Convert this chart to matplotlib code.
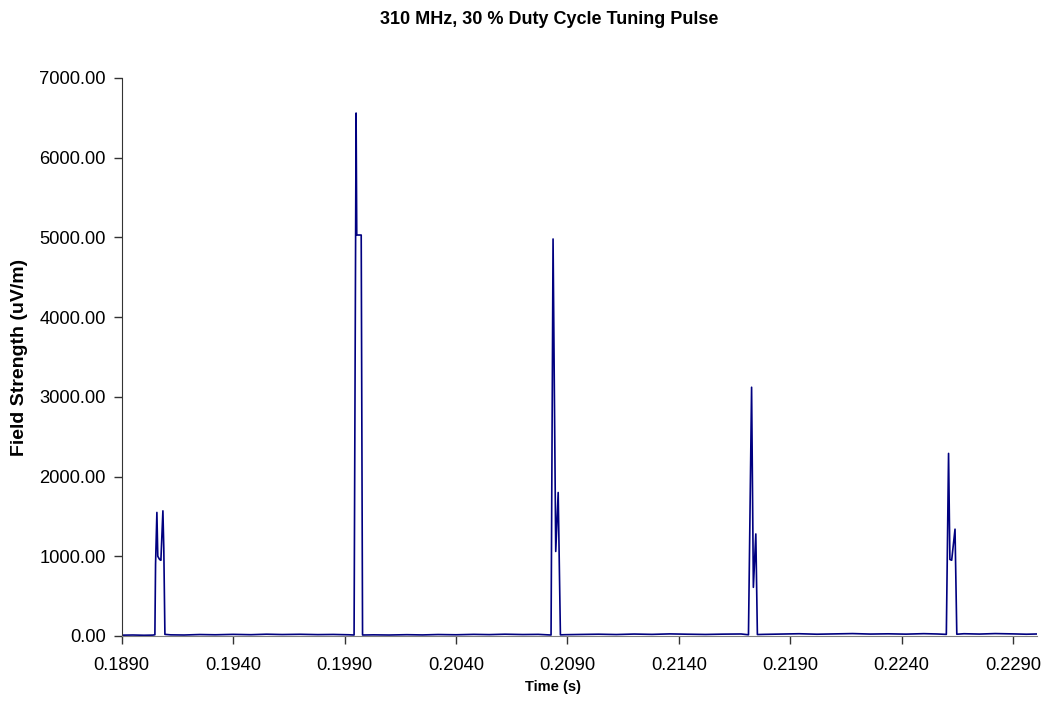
import numpy as np
import matplotlib
matplotlib.use("Agg")
import matplotlib.pyplot as plt
from matplotlib.ticker import FormatStrFormatter

plt.rcParams['font.family'] = ['Liberation Sans', 'DejaVu Sans']

# baseline between pulses (time s, field uV/m)
base_t = [0.1890, 0.1895, 0.1900, 0.1904, 0.1912, 0.1918, 0.1925, 0.1932,
          0.1940, 0.1948, 0.1955, 0.1962, 0.1970, 0.1978, 0.1985, 0.1992,
          0.2003, 0.2010, 0.2018, 0.2025, 0.2032, 0.2040, 0.2048, 0.2055,
          0.2062, 0.2070, 0.2077, 0.2089, 0.2096, 0.2104, 0.2112, 0.2120,
          0.2128, 0.2136, 0.2144, 0.2152, 0.2160, 0.2168, 0.2178, 0.2186,
          0.2194, 0.2202, 0.2210, 0.2218, 0.2226, 0.2234, 0.2242, 0.2250,
          0.2256, 0.2268, 0.2275, 0.2282, 0.2290, 0.2296, 0.2301]
base_v = [10, 12, 9, 11, 14, 12, 18, 15, 20, 16, 22, 18, 21, 17, 19, 15,
          14, 12, 16, 13, 18, 15, 20, 17, 22, 18, 20, 16, 19, 22, 18, 24,
          20, 26, 22, 19, 23, 25, 20, 24, 28, 22, 26, 30, 24, 27, 23, 29,
          25, 28, 24, 30, 26, 22, 25]

# pulse shapes
p1_t = [0.19049, 0.19052, 0.19058, 0.19062, 0.19070, 0.19076, 0.19085, 0.19089, 0.19094]
p1_v = [15, 900, 1550, 1000, 960, 950, 1570, 1100, 20]
p2_t = [0.19943, 0.19952, 0.19955, 0.19975, 0.19981]
p2_v = [12, 6560, 5030, 5030, 12]
p3_t = [0.20827, 0.20836, 0.20848, 0.20859, 0.20869]
p3_v = [12, 4980, 1060, 1800, 14]
p4_t = [0.21713, 0.21727, 0.21735, 0.21746, 0.21753]
p4_v = [15, 3120, 610, 1280, 18]
p5_t = [0.22601, 0.22611, 0.22617, 0.22625, 0.22640, 0.22648]
p5_v = [20, 2290, 960, 950, 1340, 22]

x_ticks = [0.1890, 0.1940, 0.1990, 0.2040, 0.2090, 0.2140, 0.2190, 0.2240, 0.2290]
y_ticks = [0, 1000, 2000, 3000, 4000, 5000, 6000, 7000]


def main():
    t = np.array(base_t + p1_t + p2_t + p3_t + p4_t + p5_t)
    v = np.array(base_v + p1_v + p2_v + p3_v + p4_v + p5_v)
    order = np.argsort(t)

    fig = plt.figure(figsize=(10.49, 7.09), dpi=100)
    ax = fig.add_axes([0.116, 0.103, 0.873, 0.787])
    ax.plot(t[order], v[order], color='#000080', lw=1.2)

    ax.set_xlim(0.1890, 0.2301)
    ax.set_ylim(0, 7000)
    ax.set_xticks(x_ticks)
    ax.set_yticks(y_ticks)
    ax.xaxis.set_major_formatter(FormatStrFormatter('%.4f'))
    ax.yaxis.set_major_formatter(FormatStrFormatter('%.2f'))
    ax.tick_params(labelsize=13.2, length=5.5, width=1, color='#333333')
    ax.tick_params(axis='x', pad=9.5)
    ax.tick_params(axis='y', pad=6)

    for s in ('top', 'right'):
        ax.spines[s].set_visible(False)
    ax.spines['left'].set_color('#333333')
    ax.spines['bottom'].set_color('#808080')

    # axis titles placed like the original (x title sits left of centre)
    fig.text(553 / 1049, 1 - 687 / 709, 'Time (s)', fontsize=10.5,
             fontweight='bold', ha='center', va='center')
    ax.set_ylabel('Field Strength (uV/m)', fontsize=14, fontweight='bold', labelpad=8)
    fig.text(0.524, 1 - 20 / 709, '310 MHz, 30 % Duty Cycle Tuning Pulse',
             fontsize=13, fontweight='bold', ha='center', va='center')

    fig.savefig('out.png', dpi=100)


if __name__ == "__main__":
    main()
